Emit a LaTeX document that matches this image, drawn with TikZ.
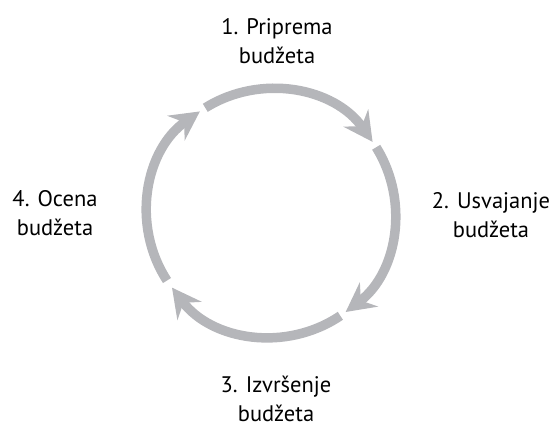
\documentclass[tikz,border=0pt]{standalone}
\usepackage{fontspec}
\setmainfont{PT Sans}
\usetikzlibrary{arrows.meta}
\definecolor{cyclegray}{RGB}{181,182,186}
\begin{document}
\begin{tikzpicture}[x=1pt,y=1pt,
    stage/.style = {align=center,font=\fontsize{22.5}{29}\selectfont,inner sep=0pt},
    cyclearrow/.style = {draw=cyclegray,line width=9.5pt,
        -{Stealth[length=29pt,width=30pt,inset=10pt]}}]
\useasboundingbox (0,0) rectangle (554,427);
\coordinate (mid) at (271,214);
% labels
\node[stage] (prep) at (277,386) {1. Priprema\\budžeta};
\node[stage] (usv)  at (491,212) {2. Usvajanje\\budžeta};
\node[stage] (izv)  at (276,28)  {3. Izvršenje\\budžeta};
\node[stage] (oce)  at (55,214)  {4. Ocena\\budžeta};
% cycle
\foreach \s/\e [count=\j] in {122/35, 32/-53, -56/-143, 213/125}
    \draw[cyclearrow] (mid) ++(\s:124) coordinate (c\j) arc[start angle=\s,end angle=\e,radius=124];
\end{tikzpicture}
\end{document}
